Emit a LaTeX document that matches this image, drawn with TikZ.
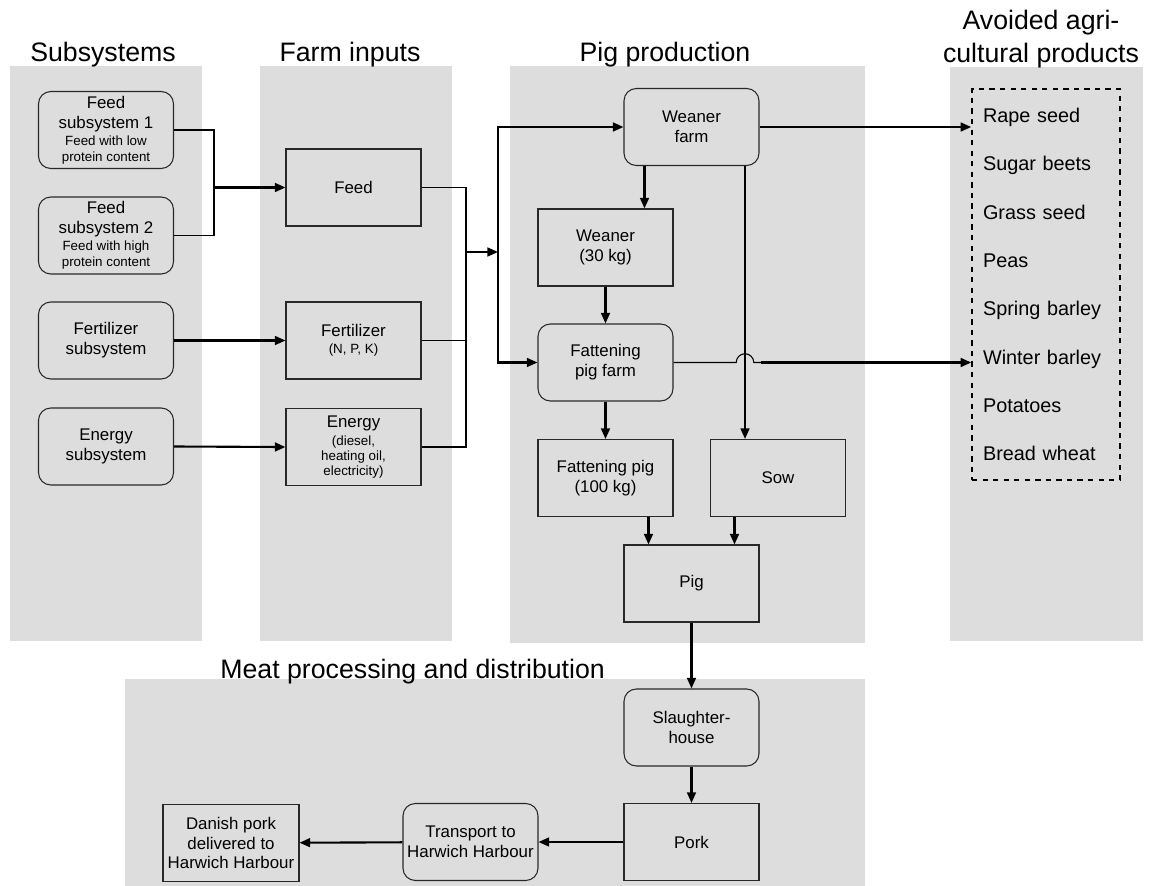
\documentclass[tikz,border=0pt]{standalone}
\usepackage{fontspec}
\setmainfont{Liberation Sans}
\usepackage{xcolor}
\usetikzlibrary{positioning,calc,arrows.meta}

\definecolor{panelgray}{RGB}{221,221,221}
\definecolor{boxline}{RGB}{40,40,40}
\newcommand{\smalltxt}{\fontsize{7.6}{9}\selectfont}

\tikzset{
  panel/.style={fill=panelgray},
  head/.style={font=\fontsize{15.2}{18.7}\selectfont, inner sep=0pt, align=center},
  box/.style={draw=boxline, line width=0.6pt, fill=panelgray, minimum width=2.7cm,
    minimum height=1.54cm, inner sep=2pt, align=center, font=\fontsize{9.6}{11.3}\selectfont},
  roundbox/.style={box, rounded corners=7pt},
  flow/.style={line width=1.2pt, -{Triangle[length=6pt,width=5pt]}},
  link/.style={line width=0.6pt},
}

\begin{document}
\begin{tikzpicture}[x=0.02cm, y=-0.02cm]
    \useasboundingbox (0,0) rectangle (1150,886);

    % grey panels
    \fill[panel] (10,66) rectangle (202,641);
    \fill[panel] (260,66) rectangle (452,641);
    \fill[panel] (510,66) rectangle (865,643);
    \fill[panel] (950,67) rectangle (1143,641);
    \fill[panel] (125,679) rectangle (865,886);

    % panel titles
    \node (subhead) [head, anchor=base] at (103,61) {Subsystems};
    \node (inhead) [head, anchor=base] at (350,61) {Farm inputs};
    \node (pighead) [head, anchor=base] at (665,61) {Pig production};
    \node (avhead) [head, anchor=north] at (1041,10) {Avoided agri-\\cultural products};
    \node (meathead) [head, anchor=base west] at (220,678) {Meat processing and distribution};

    % subsystems
    \node (fs1) [roundbox] at (106,130) {Feed\\subsystem 1\\[-1.7pt]{\smalltxt Feed with low}\\[-2.2pt]{\smalltxt protein content}};
    \node (fs2) [roundbox] at (106,235.5) {Feed\\subsystem 2\\[-1.7pt]{\smalltxt Feed with high}\\[-2.2pt]{\smalltxt protein content}};
    \node (fertsub) [roundbox] at (106,340.5) {Fertilizer\\subsystem};
    \node (energysub) [roundbox] at (106,446.5) {Energy\\subsystem};

    % farm inputs
    \node (feed) [box] at (353.5,187.5) {Feed};
    \node (fert) [box] at (353.5,340.5) {Fertilizer\\[-1.7pt]{\smalltxt (N, P, K)}};
    \node (energy) [box] at (353.5,447) {Energy\\[-1.1pt]{\smalltxt (diesel,}\\[-2.8pt]{\smalltxt heating oil,}\\[-2.8pt]{\smalltxt electricity)}};

    % pig production
    \node (weanerfarm) [roundbox] at (691.5,127) {Weaner\\farm};
    \node (weaner) [box] at (605.5,247.5) {Weaner\\(30 kg)};
    \node (fpfarm) [roundbox] at (605.5,362.5) {Fattening\\pig farm};
    \node (fpig) [box] at (605.5,478) {Fattening pig\\(100 kg)};
    \node (sow) [box] at (778,478) {Sow};
    \node (pig) [box] at (691.5,583.5) {Pig};

    % avoided products
    \node (avoided) [draw, dashed, line width=0.9pt, minimum width=2.96cm, minimum height=7.82cm,
      text width=2.52cm, align=left, font=\fontsize{11.3}{27.5}\selectfont] at (1046,284.5)
      {Rape seed\\Sugar beets\\Grass seed\\Peas\\Spring barley\\Winter barley\\Potatoes\\Bread wheat};

    % meat processing and distribution
    \node (slaughter) [roundbox] at (691.5,727.5) {Slaughter-\\house};
    \node (pork) [box] at (691.5,842) {Pork};
    \node (transport) [roundbox] at (470.5,842) {Transport to\\Harwich Harbour};
    \node (danish) [box, minimum width=2.72cm] at (231,843) {Danish pork\\delivered to\\Harwich Harbour};

    % joints
    \coordinate (fbus) at (214,187.5);
    \coordinate (inbus) at (466,252);
    \coordinate (pbus) at (498,252);
    \path (weanerfarm.south) ++(-47,0) coordinate (wfout);
    \path (sow.north) ++(-33,0) coordinate (sowin);
    \path (pig.north west) ++(25,0) coordinate (pigin1);
    \path (pig.north east) ++(-25,0) coordinate (pigin2);

    % connectors
    \draw[link] (fs1.east) -| (fbus) |- (fs2.east);
    \draw[flow] (fbus) -- (feed.west);
    \draw[flow] (fertsub.east) -- (fert.west);
    \draw[flow] (energysub.east) -- (energy.west);

    \draw[link] (feed.east) -| (inbus |- energy.east) -- (energy.east);
    \draw[link] (fert.east) -- (fert.east -| inbus);
    \draw[flow] (inbus) -- (pbus);
    \draw[flow] (pbus) |- (weanerfarm.west);
    \draw[flow] (pbus) |- (fpfarm.west);

    \draw[flow] (wfout) -- (wfout |- weaner.north);
    \draw[flow] (sowin |- weanerfarm.south) -- (sowin);
    \draw[flow] (weaner) -- (fpfarm);
    \draw[flow] (fpfarm) -- (fpig);
    \draw[flow] (pigin1 |- fpig.south) -- (pigin1);
    \draw[flow] (pigin2 |- sow.south) -- (pigin2);

    \draw[flow] (weanerfarm.east) -- (weanerfarm.east -| avoided.west);
    \path (fpfarm.east -| sowin) ++(-5pt,0) coordinate (hopA);
    \draw[link] (fpfarm.east) -- (hopA) arc[start angle=180, end angle=0, radius=5pt] -- ++(4pt,0) coordinate (hopB);
    \draw[flow] (hopB) -- (hopB -| avoided.west);

    \draw[flow] (pig) -- (slaughter);
    \draw[flow] (slaughter) -- (pork);
    \draw[flow] (pork) -- (transport);
    \draw[flow] (transport) -- (danish);
\end{tikzpicture}
\end{document}
